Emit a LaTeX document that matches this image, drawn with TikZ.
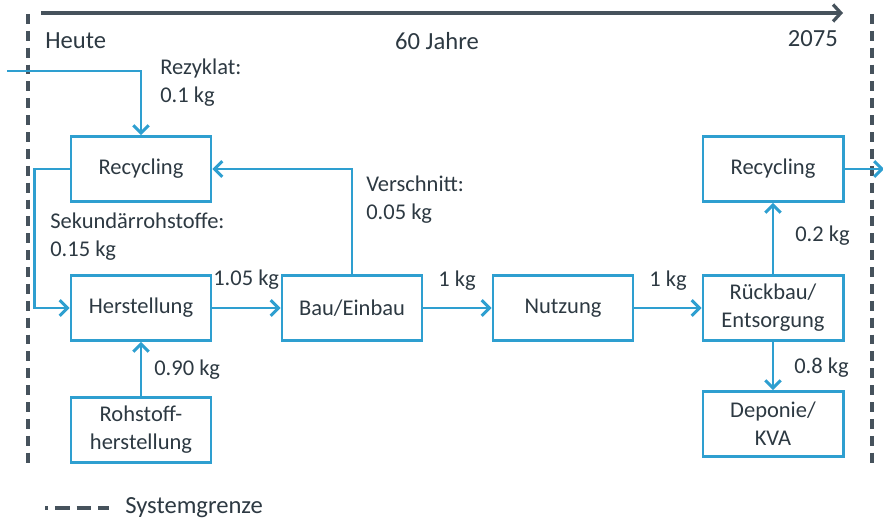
\documentclass[tikz,border=0pt]{standalone}
\usepackage{fontspec}
\setmainfont{Carlito}
\usetikzlibrary{arrows.meta}
\definecolor{bl}{HTML}{2E9FD0}
\definecolor{g}{HTML}{46525C}
\definecolor{t}{HTML}{2D3942}

\begin{document}
\begin{tikzpicture}[x=0.025cm, y=-0.025cm,
    box/.style={draw=bl, line width=2.1pt, minimum width=3.5cm, minimum height=1.62cm,
        align=center, text=t, inner sep=0pt, font=\fontsize{16}{20}\selectfont},
    flow/.style={bl, line width=2.1pt, -{Straight Barb[length=5.5pt,width=11pt]}},
    lbl/.style={text=t, inner sep=0pt, align=left, font=\fontsize{16}{19.9}\selectfont},
    big/.style={text=t, inner sep=0pt, font=\fontsize{17.5}{21}\selectfont},
    grenze/.style={g, line width=2.5pt, dash pattern=on 7pt off 5pt}]
    \useasboundingbox (0,0) rectangle (883,519);

    % Time axis
    \coordinate (t0) at (41,13);
    \coordinate (t1) at (843,13);
    \draw[g, line width=2.3pt, -{Straight Barb[length=5.5pt,width=12pt]}] (t0) -- (t1);
    \node[big, anchor=west] (heute) at (45,41) {Heute};
    \node[big] (jahre) at (437,41) {60 Jahre};
    \node[big, anchor=east] (ende) at (838,39) {2075};

    % System boundary
    \coordinate (gl0) at (28,14);
    \coordinate (gl1) at (28,468);
    \coordinate (gr0) at (872,14);
    \coordinate (gr1) at (872,468);
    \draw[grenze] (gl0) -- (gl1);
    \draw[grenze] (gr0) -- (gr1);

    % Processes
    \node[box] (rec1) at (141,169) {Recycling};
    \node[box] (her) at (141,308) {Herstellung};
    \node[box] (roh) at (141,430) {Rohstoff-\\herstellung};
    \node[box] (bau) at (352,308) {Bau/Einbau};
    \node[box] (nutz) at (563,308) {Nutzung};
    \node[box] (rueck) at (773,308) {Rückbau/\\Entsorgung};
    \node[box] (rec2) at (773,169) {Recycling};
    \node[box] (dep) at (773,424) {Deponie/\\KVA};

    % Flows
    \coordinate (rezin) at (7,71);
    \coordinate (recout) at (884,169);
    \draw[flow] (rezin) -| (rec1.north);
    \draw[flow] (rec1.west) -- ++(-35,0) |- (her.west);
    \draw[flow] (roh.north) -- (her.south);
    \draw[flow] (her.east) -- (bau.west);
    \draw[flow] (bau.north) |- (rec1.east);
    \draw[flow] (bau.east) -- (nutz.west);
    \draw[flow] (nutz.east) -- (rueck.west);
    \draw[flow] (rueck.north) -- (rec2.south);
    \draw[flow] (rueck.south) -- (dep.north);
    \draw[flow] (rec2.east) -- (recout);

    % Flow labels
    \node[lbl, anchor=west] (rezyk) at (160,83) {Rezyklat:\\0.1 kg};
    \node[lbl, anchor=west] (sekund) at (50,237) {Sekundärrohstoffe:\\0.15 kg};
    \node[lbl, anchor=west] (versch) at (366,200) {Verschnitt:\\0.05 kg};
    \node[lbl, anchor=west] (m105) at (213,280) {1.05 kg};
    \node[lbl, anchor=west] (m1a) at (438,281) {1 kg};
    \node[lbl, anchor=west] (m1b) at (649,281) {1 kg};
    \node[lbl, anchor=west] (m090) at (154,370) {0.90 kg};
    \node[lbl, anchor=west] (m02) at (795,236) {0.2 kg};
    \node[lbl, anchor=west] (m08) at (794,368) {0.8 kg};

    % Legend
    \coordinate (lg0) at (45,508);
    \coordinate (lg1) at (109,508);
    \draw[g, line width=2.5pt, dash pattern=on 10.5pt off 5pt, dash phase=8.5pt] (lg0) -- (lg1);
    \node[big, anchor=west] (legende) at (125,508) {Systemgrenze};
\end{tikzpicture}
\end{document}
